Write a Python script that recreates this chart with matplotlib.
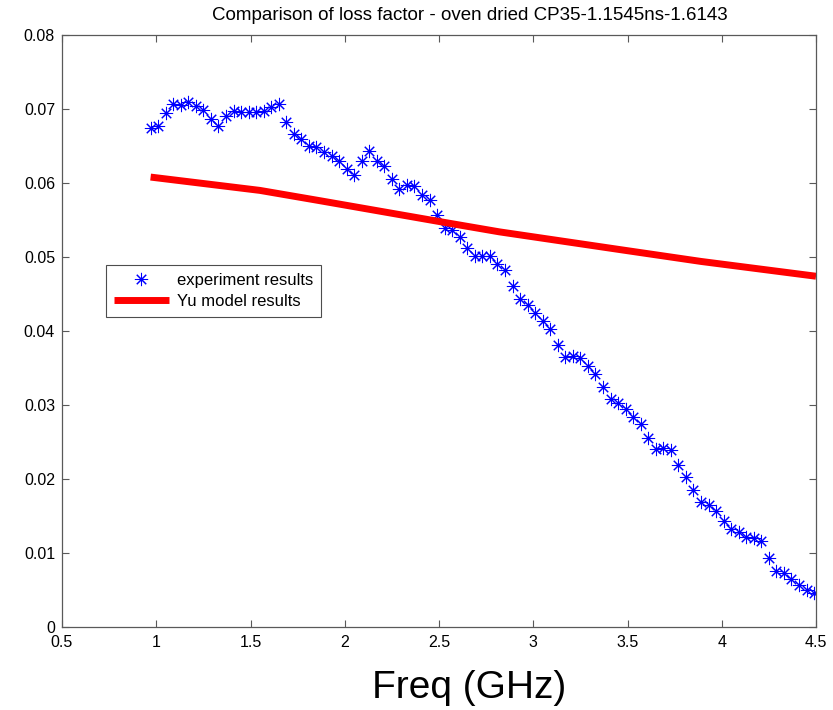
import matplotlib
matplotlib.use("Agg")
import matplotlib.pyplot as plt

plt.rcParams['font.family'] = ['Liberation Sans', 'DejaVu Sans']

# Experimental loss factor (frequency in GHz)
freq_exp = [0.97, 1.01, 1.05, 1.09, 1.13, 1.17, 1.21, 1.25, 1.29, 1.33,
            1.37, 1.41, 1.45, 1.49, 1.53, 1.57, 1.61, 1.65, 1.69, 1.73,
            1.77, 1.81, 1.85, 1.89, 1.93, 1.97, 2.01, 2.05, 2.09, 2.13,
            2.17, 2.21, 2.25, 2.29, 2.33, 2.37, 2.41, 2.45, 2.49, 2.53,
            2.57, 2.61, 2.65, 2.69, 2.73, 2.77, 2.81, 2.85, 2.89, 2.93,
            2.97, 3.01, 3.05, 3.09, 3.13, 3.17, 3.21, 3.25, 3.29, 3.33,
            3.37, 3.41, 3.45, 3.49, 3.53, 3.57, 3.61, 3.65, 3.69, 3.73,
            3.77, 3.81, 3.85, 3.89, 3.93, 3.97, 4.01, 4.05, 4.09, 4.13,
            4.17, 4.21, 4.25, 4.29, 4.33, 4.37, 4.41, 4.45, 4.49]
loss_exp = [0.06744, 0.06765, 0.06946, 0.07072, 0.07058, 0.07094, 0.07035, 0.06981, 0.06869, 0.06765,
            0.06900, 0.06968, 0.06954, 0.06954, 0.06964, 0.06968, 0.07027, 0.07067, 0.06819, 0.06667,
            0.06595, 0.06505, 0.06491, 0.06424, 0.06360, 0.06293, 0.06194, 0.06113, 0.06302, 0.06428,
            0.06293, 0.06225, 0.06055, 0.05920, 0.05969, 0.05955, 0.05843, 0.05767, 0.05564, 0.05394,
            0.05364, 0.05277, 0.05128, 0.05007, 0.05020, 0.05007, 0.04906, 0.04831, 0.04606, 0.04436,
            0.04345, 0.04238, 0.04134, 0.04022, 0.03810, 0.03648, 0.03661, 0.03640, 0.03526, 0.03424,
            0.03239, 0.03077, 0.03032, 0.02942, 0.02834, 0.02740, 0.02560, 0.02412, 0.02416, 0.02389,
            0.02186, 0.02028, 0.01849, 0.01683, 0.01646, 0.01569, 0.01435, 0.01323, 0.01278, 0.01210,
            0.01201, 0.01165, 0.00927, 0.00760, 0.00725, 0.00648, 0.00571, 0.00499, 0.00459]

# Yu model results
freq_model = [0.97, 1.55, 1.87, 2.50, 2.82, 3.46, 3.89, 4.50]
loss_model = [0.0608, 0.0590, 0.0576, 0.0548, 0.0534, 0.0510, 0.0494, 0.0474]

xticks = [0.5, 1, 1.5, 2, 2.5, 3, 3.5, 4, 4.5]
xtick_labels = ['0.5', '1', '1.5', '2', '2.5', '3', '3.5', '4', '4.5']
yticks = [0, 0.01, 0.02, 0.03, 0.04, 0.05, 0.06, 0.07, 0.08]
ytick_labels = ['0', '0.01', '0.02', '0.03', '0.04', '0.05', '0.06', '0.07', '0.08']

fig = plt.figure(figsize=(8.33, 7.10), dpi=100)
ax = fig.add_axes([62/833, (710-627)/710, (816-62)/833, (627-35)/710])

ax.plot(freq_exp, loss_exp, linestyle='none', marker=(8, 2, 0), markersize=9.5,
        markeredgewidth=0.75, color='#0000ff', label='experiment results')
ax.plot(freq_model, loss_model, color='#ff0000', linewidth=5, solid_capstyle='butt',
        label='Yu model results')

ax.set_xlim(0.5, 4.5)
ax.set_ylim(0, 0.08)
ax.set_xticks(xticks)
ax.set_xticklabels(xtick_labels)
ax.set_yticks(yticks)
ax.set_yticklabels(ytick_labels)
ax.tick_params(direction='in', length=5, width=0.8, color='0.35', labelsize=11.5,
               top=True, right=True)
ax.tick_params(axis='x', pad=6)
ax.tick_params(axis='y', pad=5)
for s in ax.spines.values():
    s.set_color('0.35')
    s.set_linewidth(0.9)

leg = ax.legend(loc='upper left', bbox_to_anchor=((106-62)/754, (627-265)/592),
                fontsize=12, frameon=True, fancybox=False, framealpha=1,
                edgecolor='0.3', handlelength=3.3, borderpad=0.45, labelspacing=0.4,
                handletextpad=0.5, borderaxespad=0)
leg.get_frame().set_linewidth(0.8)

fig.text(470/833, 1 - 15/710, 'Comparison of loss factor - oven dried CP35-1.1545ns-1.6143',
         ha='center', va='center', fontsize=13.5)
fig.text(469/833, 1 - 688/710, 'Freq (GHz)', ha='center', va='center', fontsize=28)

fig.savefig('out.png', dpi=100)
